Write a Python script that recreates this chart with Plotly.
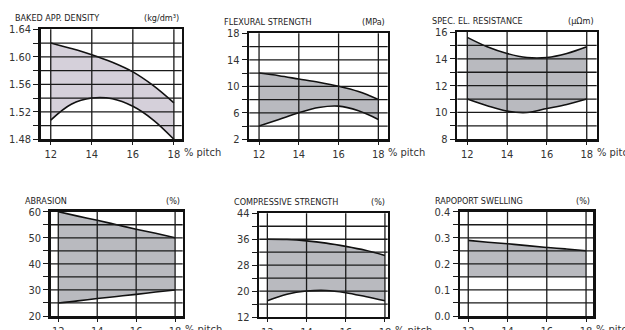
import plotly.graph_objects as go

pitch = [12, 13, 14, 15, 16, 17, 18]

# Panel data
density_hi = [1.620, 1.612, 1.603, 1.592, 1.578, 1.558, 1.533]
density_lo = [1.508, 1.531, 1.540, 1.539, 1.528, 1.508, 1.480]

flex_hi = [12.0, 11.6, 11.1, 10.6, 10.0, 9.2, 8.0]
flex_lo = [4.0, 5.0, 6.0, 6.8, 7.0, 6.3, 5.0]

resist_hi = [15.6, 14.9, 14.4, 14.1, 14.1, 14.4, 14.9]
resist_lo = [11.0, 10.5, 10.1, 10.0, 10.3, 10.6, 11.0]

abrasion_hi = [60.0, 58.3, 56.7, 55.0, 53.3, 51.7, 50.0]
abrasion_lo = [25.0, 25.8, 26.7, 27.5, 28.3, 29.2, 30.0]

compr_hi = [36.0, 35.9, 35.5, 34.8, 33.8, 32.6, 31.0]
compr_lo = [17.0, 19.0, 20.0, 20.2, 19.5, 18.3, 17.0]

swell_hi = [0.290, 0.283, 0.277, 0.270, 0.263, 0.257, 0.250]
swell_lo = [0.150, 0.150, 0.150, 0.150, 0.150, 0.150, 0.150]

titles = ["BAKED APP. DENSITY", "FLEXURAL STRENGTH", "SPEC. EL. RESISTANCE",
          "ABRASION", "COMPRESSIVE STRENGTH", "RAPOPORT SWELLING"]
units = ["(kg/dm\u00b3)", "(MPa)", "(\u03bc\u03a9m)", "(%)", "(%)", "(%)"]
x_ticks = [12, 14, 16, 18]

panels = [
    dict(hi=density_hi, lo=density_lo, yr=[1.48, 1.64], dt=0.04, fmt=".2f",
         dom_x=[0.0651, 0.2907], dom_y=[0.5779, 0.9112], xr=[11.51, 18.38],
         fill="#d5d0da", lo_line=True),
    dict(hi=flex_hi, lo=flex_lo, yr=[2, 18], dt=4, fmt="d",
         dom_x=[0.3989, 0.6203], dom_y=[0.5779, 0.8991], xr=[11.51, 18.47],
         fill="#b9babf", lo_line=True),
    dict(hi=resist_hi, lo=resist_lo, yr=[8, 16], dt=2, fmt="d",
         dom_x=[0.7317, 0.9547], dom_y=[0.5779, 0.9030], xr=[11.50, 18.50],
         fill="#b9babf", lo_line=True),
    dict(hi=abrasion_hi, lo=abrasion_lo, yr=[20, 60], dt=10, fmt="d",
         dom_x=[0.0811, 0.2923], dom_y=[0.0424, 0.3585], xr=[11.61, 18.39],
         fill="#b9babf", lo_line=True),
    dict(hi=compr_hi, lo=compr_lo, yr=[12, 44], dt=8, fmt="d",
         dom_x=[0.4149, 0.6203], dom_y=[0.0394, 0.3536], xr=[11.59, 18.14],
         fill="#b9babf", lo_line=True),
    dict(hi=swell_hi, lo=swell_lo, yr=[0, 0.4], dt=0.1, fmt=".1f",
         dom_x=[0.7360, 0.9493], dom_y=[0.0424, 0.3585], xr=[11.58, 18.37],
         fill="#b9babf", lo_line=False),
]

FONT = "DejaVu Sans Condensed, Liberation Sans Narrow, sans-serif"
GRID = "#1a1a1a"
fig = go.Figure()
annotations = []
shapes = []

for i, p in enumerate(panels):
    n = i + 1
    xa = "x" if n == 1 else f"x{n}"
    ya = "y" if n == 1 else f"y{n}"
    fig.add_trace(go.Scatter(
        x=pitch, y=p["lo"], mode="lines", xaxis=xa, yaxis=ya,
        line=dict(color="#111111" if p["lo_line"] else "rgba(0,0,0,0)",
                  width=1.6, shape="spline", smoothing=1.0),
        hoverinfo="skip", showlegend=False))
    fig.add_trace(go.Scatter(
        x=pitch, y=p["hi"], mode="lines", xaxis=xa, yaxis=ya,
        fill="tonexty", fillcolor=p["fill"],
        line=dict(color="#111111", width=1.6, shape="spline", smoothing=1.0),
        hoverinfo="skip", showlegend=False))

    xkey = "xaxis" if n == 1 else f"xaxis{n}"
    ykey = "yaxis" if n == 1 else f"yaxis{n}"
    fig.layout[xkey] = go.layout.XAxis(
        domain=p["dom_x"], range=p["xr"], anchor=ya, automargin=False,
        tickmode="array", tickvals=x_ticks, ticks="outside", ticklen=3,
        tickcolor=GRID, showgrid=False,
        showline=True, mirror=True, linecolor="#111111", linewidth=2.5,
        zeroline=False, fixedrange=True, layer="above traces",
        tickfont=dict(family=FONT, size=11, color="#333333"))
    fig.layout[ykey] = go.layout.YAxis(
        domain=p["dom_y"], range=p["yr"], anchor=xa, automargin=False,
        tickmode="linear", tick0=p["yr"][0], dtick=p["dt"], tickformat=p["fmt"],
        ticks="outside", ticklen=5, tickcolor=GRID, showgrid=False,
        minor=dict(tick0=p["yr"][0], dtick=p["dt"] / 2, showgrid=False,
                   ticks="outside", ticklen=5, tickcolor=GRID),
        showline=True, mirror=True, linecolor="#111111", linewidth=2.5,
        zeroline=False, fixedrange=True, layer="above traces",
        tickfont=dict(family=FONT, size=11, color="#333333"))

    # grid drawn above the filled band, at the axis tick positions
    for xv in x_ticks:
        shapes.append(dict(type="line", xref=xa, yref=f"{ya} domain",
                           x0=xv, x1=xv, y0=0, y1=1, layer="above",
                           line=dict(color=GRID, width=1.3)))
    half = p["dt"] / 2
    steps = int(round((p["yr"][1] - p["yr"][0]) / half))
    for k in range(1, steps):
        yv = p["yr"][0] + k * half
        shapes.append(dict(type="line", xref=f"{xa} domain", yref=ya,
                           x0=0, x1=1, y0=yv, y1=yv, layer="above",
                           line=dict(color=GRID, width=1.3)))

    annotations.append(dict(
        x=p["dom_x"][0] - 0.042, y=p["dom_y"][1] + 0.012, xref="paper", yref="paper",
        xanchor="left", yanchor="bottom", xshift=-1, showarrow=False, text=titles[i],
        font=dict(family=FONT, size=9, color="#222222")))
    annotations.append(dict(
        x=p["dom_x"][1], y=p["dom_y"][1] + 0.012, xref="paper", yref="paper",
        xanchor="right", yanchor="bottom", xshift=-1, showarrow=False, text=units[i],
        font=dict(family=FONT, size=9, color="#222222")))
    annotations.append(dict(
        x=18, y=0, xref=xa, yref=f"{ya} domain",
        xanchor="left", yanchor="top", xshift=8, yshift=-5, showarrow=False,
        text="% pitch", font=dict(family=FONT, size=11, color="#333333")))

fig.update_layout(
    width=625, height=330,
    margin=dict(l=0, r=0, t=0, b=0, pad=0, autoexpand=False),
    paper_bgcolor="white", plot_bgcolor="white",
    annotations=annotations, shapes=shapes, showlegend=False)

fig.write_html("out.html",
               config={"displayModeBar": False, "staticPlot": True},
               post_script="document.body.style.margin='0';document.body.style.overflow='hidden';")
